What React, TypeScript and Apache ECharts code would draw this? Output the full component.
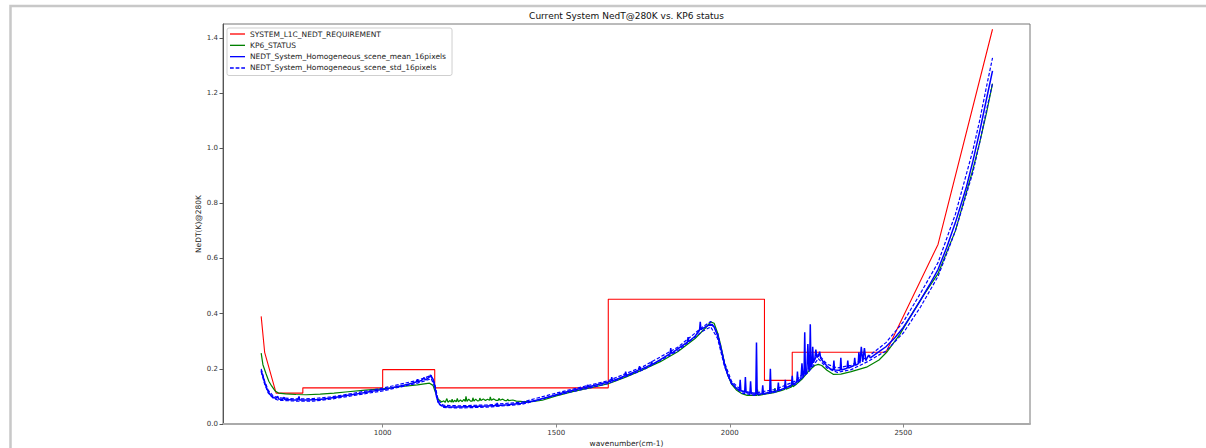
import React, { useEffect, useRef } from "react";
import * as echarts from "echarts";

type P = [number, number];

const TITLE = "Current System NedT@280K vs. KP6 status";
const X_NAME = "wavenumber(cm-1)";
const Y_NAME = "NeDT(K)@280K";
const NAME_REQ = "SYSTEM_L1C_NEDT_REQUIREMENT";
const NAME_KP6 = "KP6_STATUS";
const NAME_MEAN = "NEDT_System_Homogeneous_scene_mean_16pixels";
const NAME_STD = "NEDT_System_Homogeneous_scene_std_16pixels";

const X_TICKS = [1000, 1500, 2000, 2500];
const Y_TICKS = [0, 0.2, 0.4, 0.6, 0.8, 1.0, 1.2, 1.4];

const reqPoints: P[] = [
  [650, 0.39], [660, 0.26], [693, 0.112], [770, 0.112], [770, 0.131], [1000, 0.131],
  [1000, 0.197], [1150, 0.197], [1150, 0.131], [1650, 0.131], [1650, 0.452], [2100, 0.452],
  [2100, 0.158], [2180, 0.158], [2180, 0.26], [2450, 0.26], [2600, 0.651], [2757, 1.431],
];

const kp6Points: P[] = [
  [650, 0.257], [655, 0.215], [664, 0.182], [672, 0.155], [680, 0.138], [690, 0.12], [700, 0.112],
  [720, 0.109], [750, 0.107], [780, 0.106], [820, 0.108], [860, 0.112], [900, 0.117], [950, 0.123],
  [1000, 0.127], [1050, 0.135], [1100, 0.142], [1135, 0.148], [1145, 0.14], [1152, 0.115],
  [1160, 0.09], [1170, 0.08], [1176, 0.084], [1180, 0.078], [1185, 0.092], [1188, 0.079],
  [1194, 0.085], [1198, 0.079], [1200, 0.09], [1203, 0.079], [1208, 0.086], [1212, 0.08],
  [1215, 0.093], [1218, 0.08], [1224, 0.087], [1229, 0.081], [1234, 0.089], [1238, 0.082],
  [1240, 0.1], [1243, 0.082], [1248, 0.09], [1253, 0.083], [1258, 0.083], [1260, 0.095],
  [1263, 0.083], [1268, 0.09], [1273, 0.084], [1278, 0.085], [1280, 0.094], [1283, 0.085],
  [1290, 0.091], [1296, 0.085], [1302, 0.09], [1308, 0.086], [1310, 0.098], [1313, 0.086],
  [1320, 0.091], [1326, 0.086], [1333, 0.086], [1335, 0.093], [1338, 0.086], [1346, 0.09],
  [1352, 0.085], [1358, 0.085], [1360, 0.09], [1363, 0.085], [1375, 0.087], [1385, 0.083],
  [1400, 0.082], [1430, 0.081], [1460, 0.086], [1500, 0.102], [1550, 0.118], [1600, 0.132],
  [1650, 0.146], [1700, 0.17], [1750, 0.197], [1800, 0.226], [1850, 0.262], [1900, 0.31],
  [1930, 0.348], [1945, 0.37], [1955, 0.365], [1965, 0.33], [1975, 0.28], [1985, 0.22],
  [1995, 0.175], [2005, 0.145], [2020, 0.122], [2035, 0.11], [2050, 0.104], [2078, 0.104],
  [2080, 0.125], [2082, 0.104], [2110, 0.11], [2128, 0.114], [2130, 0.13], [2132, 0.115],
  [2150, 0.122], [2158, 0.125], [2160, 0.145], [2162, 0.126], [2178, 0.134], [2180, 0.152],
  [2182, 0.135], [2190, 0.142], [2210, 0.165], [2230, 0.196], [2245, 0.212], [2255, 0.216],
  [2265, 0.212], [2280, 0.195], [2298, 0.18], [2320, 0.181], [2350, 0.19], [2394, 0.206],
  [2430, 0.232], [2452, 0.26], [2490, 0.325], [2530, 0.41], [2560, 0.47], [2600, 0.545],
  [2650, 0.7], [2700, 0.92], [2720, 1.02], [2740, 1.13], [2757, 1.234],
];

const meanPoints: P[] = [
  [650, 0.195], [653, 0.18], [657, 0.165], [660, 0.15], [665, 0.133], [670, 0.118], [675, 0.108],
  [680, 0.101], [686, 0.096], [692, 0.093], [698, 0.1], [700, 0.091], [706, 0.09], [712, 0.089],
  [716, 0.097], [718, 0.089], [725, 0.088], [735, 0.088], [745, 0.087], [755, 0.087], [759, 0.1],
  [761, 0.087], [770, 0.087], [785, 0.087], [800, 0.088], [815, 0.089], [830, 0.091], [845, 0.093],
  [860, 0.096], [875, 0.099], [890, 0.102], [905, 0.105], [920, 0.108], [935, 0.111], [950, 0.114],
  [965, 0.118], [980, 0.121], [995, 0.124], [1010, 0.127], [1025, 0.131], [1040, 0.135],
  [1055, 0.139], [1070, 0.143], [1085, 0.148], [1098, 0.153], [1100, 0.162], [1102, 0.153],
  [1112, 0.158], [1120, 0.168], [1122, 0.16], [1130, 0.165], [1136, 0.172], [1138, 0.178],
  [1141, 0.168], [1145, 0.163], [1150, 0.14], [1155, 0.1], [1160, 0.08], [1165, 0.07],
  [1175, 0.064], [1190, 0.062], [1220, 0.062], [1260, 0.063], [1300, 0.065], [1328, 0.067],
  [1330, 0.076], [1332, 0.067], [1360, 0.07], [1400, 0.075], [1440, 0.085], [1480, 0.099],
  [1520, 0.113], [1560, 0.126], [1588, 0.133], [1590, 0.142], [1592, 0.134], [1620, 0.143],
  [1650, 0.152], [1658, 0.156], [1660, 0.17], [1662, 0.157], [1680, 0.165], [1698, 0.175],
  [1700, 0.19], [1702, 0.176], [1720, 0.186], [1738, 0.196], [1740, 0.21], [1742, 0.197],
  [1760, 0.207], [1773, 0.215], [1775, 0.227], [1777, 0.216], [1800, 0.233], [1828, 0.255],
  [1830, 0.275], [1832, 0.256], [1850, 0.272], [1878, 0.297], [1880, 0.315], [1882, 0.299],
  [1900, 0.318], [1913, 0.34], [1915, 0.37], [1917, 0.342], [1930, 0.352], [1945, 0.362],
  [1955, 0.352], [1965, 0.32], [1975, 0.27], [1985, 0.215], [1995, 0.175], [2005, 0.15],
  [2020, 0.128], [2028, 0.122], [2030, 0.16], [2032, 0.121], [2043, 0.115], [2045, 0.17],
  [2047, 0.114], [2058, 0.111], [2060, 0.155], [2062, 0.11], [2075, 0.108], [2077, 0.295],
  [2079, 0.108], [2093, 0.11], [2095, 0.14], [2097, 0.11], [2115, 0.115], [2117, 0.2],
  [2119, 0.115], [2138, 0.121], [2140, 0.15], [2142, 0.122], [2158, 0.13], [2160, 0.16],
  [2162, 0.131], [2178, 0.142], [2180, 0.175], [2182, 0.143], [2193, 0.152], [2195, 0.19],
  [2197, 0.154], [2205, 0.165], [2208, 0.22], [2211, 0.17], [2214, 0.178], [2216, 0.333],
  [2218, 0.182], [2222, 0.19], [2225, 0.29], [2228, 0.195], [2230, 0.2], [2232, 0.362],
  [2234, 0.205], [2237, 0.215], [2239, 0.28], [2241, 0.222], [2245, 0.235], [2248, 0.27],
  [2251, 0.242], [2255, 0.245], [2259, 0.262], [2262, 0.238], [2270, 0.225], [2280, 0.21],
  [2290, 0.2], [2298, 0.196], [2300, 0.23], [2302, 0.196], [2318, 0.195], [2320, 0.24],
  [2322, 0.196], [2338, 0.202], [2340, 0.23], [2342, 0.203], [2358, 0.212], [2360, 0.24],
  [2362, 0.213], [2370, 0.218], [2372, 0.26], [2375, 0.22], [2379, 0.28], [2383, 0.225],
  [2388, 0.275], [2392, 0.23], [2400, 0.25], [2405, 0.24], [2430, 0.262], [2450, 0.28],
  [2475, 0.312], [2500, 0.35], [2525, 0.398], [2550, 0.45], [2575, 0.503], [2600, 0.56],
  [2625, 0.64], [2650, 0.73], [2682, 0.86], [2700, 0.95], [2720, 1.06], [2740, 1.18],
  [2757, 1.28],
];

const stdUpperPoints: P[] = [
  [650, 0.2], [660, 0.155], [670, 0.123], [685, 0.101], [700, 0.095], [750, 0.091], [800, 0.092],
  [850, 0.098], [900, 0.108], [1000, 0.13], [1100, 0.158], [1140, 0.176], [1150, 0.145],
  [1160, 0.085], [1175, 0.068], [1220, 0.066], [1300, 0.069], [1400, 0.079], [1500, 0.112],
  [1600, 0.142], [1650, 0.157], [1750, 0.208], [1850, 0.278], [1920, 0.35], [1945, 0.372],
  [1965, 0.33], [1985, 0.222], [2005, 0.155], [2035, 0.12], [2070, 0.112], [2130, 0.125],
  [2190, 0.156], [2230, 0.207], [2255, 0.253], [2280, 0.217], [2310, 0.203], [2350, 0.213],
  [2400, 0.245], [2450, 0.295], [2500, 0.37], [2550, 0.475], [2600, 0.585], [2650, 0.76],
  [2700, 0.99], [2720, 1.1], [2740, 1.225], [2757, 1.327],
];

const stdLowerPoints: P[] = [
  [650, 0.19], [660, 0.145], [670, 0.113], [685, 0.093], [700, 0.086], [750, 0.083], [800, 0.083],
  [850, 0.09], [900, 0.1], [1000, 0.12], [1100, 0.148], [1140, 0.164], [1150, 0.135],
  [1160, 0.075], [1175, 0.06], [1220, 0.058], [1300, 0.061], [1400, 0.071], [1500, 0.104],
  [1600, 0.132], [1650, 0.147], [1750, 0.196], [1850, 0.265], [1920, 0.335], [1945, 0.352],
  [1965, 0.31], [1985, 0.208], [2005, 0.145], [2035, 0.112], [2070, 0.104], [2130, 0.115],
  [2190, 0.144], [2230, 0.193], [2255, 0.237], [2280, 0.203], [2310, 0.187], [2350, 0.197],
  [2400, 0.228], [2450, 0.265], [2500, 0.33], [2550, 0.425], [2600, 0.535], [2650, 0.7],
  [2700, 0.91], [2720, 1.02], [2740, 1.14], [2757, 1.235],
];

const FONT = "DejaVu Sans";
const ICON_SOLID = "path://M0,0H15V1.3H0Z";
const ICON_DASH = "path://M0,0H3.6V1.3H0Z M5.4,0H9V1.3H5.4Z M10.8,0H14.4V1.3H10.8Z";

export default function App() {
  const ref = useRef<HTMLDivElement>(null);
  useEffect(() => {
    if (!ref.current) return;
    const chart = echarts.init(ref.current, undefined, { renderer: "svg" });
    const lineSeries = (name: string, data: P[], color: string, dashed = false, width = 1.1) => ({
      name,
      type: "line",
      data,
      symbol: "none",
      showSymbol: false,
      silent: true,
      lineStyle: { color, width, type: dashed ? [3.5, 1.8] : "solid" },
      itemStyle: { color },
    });
    chart.setOption({
      animation: false,
      graphic: [
        {
          type: "rect",
          z: -10,
          silent: true,
          shape: { x: 10.5, y: 6, width: 1400, height: 600 },
          style: { fill: "none", stroke: "#c8c8c8", lineWidth: 2.5 },
        },
        {
          type: "text",
          x: 626.5,
          y: 16,
          style: {
            text: TITLE,
            fontFamily: FONT,
            fontSize: 9,
            fill: "#111",
            textAlign: "center",
            textVerticalAlign: "middle",
          },
        },
      ],
      grid: {
        left: 223,
        right: 176,
        top: 24,
        bottom: 24,
        outerBoundsMode: "none",
        containLabel: false,
        show: true,
        borderColor: "#777",
        borderWidth: 1,
        backgroundColor: "transparent",
      },
      legend: {
        orient: "vertical",
        left: 227,
        top: 28,
        data: [
          { name: NAME_REQ, icon: ICON_SOLID, itemStyle: { color: "#ff0000" } },
          { name: NAME_KP6, icon: ICON_SOLID, itemStyle: { color: "#008000" } },
          { name: NAME_MEAN, icon: ICON_SOLID, itemStyle: { color: "#0000ff" } },
          { name: NAME_STD, icon: ICON_DASH, itemStyle: { color: "#0000ff" } },
        ],
        itemWidth: 15,
        itemHeight: 9,
        itemGap: 2.33,
        padding: [1.5, 6, 3, 3],
        backgroundColor: "#fff",
        borderColor: "#cfcfcf",
        borderWidth: 1,
        borderRadius: 2,
        selectedMode: false,
        textStyle: { fontFamily: FONT, fontSize: 7.5, color: "#222", lineHeight: 9 },
      },
      xAxis: {
        type: "value",
        min: 540,
        max: 2865,
        name: X_NAME,
        nameLocation: "middle",
        nameGap: 15,
        nameMoveOverlap: false,
        nameTextStyle: { fontFamily: FONT, fontSize: 7.5, color: "#222" },
        axisLine: { show: true, onZero: false, lineStyle: { color: "#aaa", width: 2 } },
        axisTick: {
          show: true,
          customValues: X_TICKS,
          length: 3.5,
          lineStyle: { color: "#888", width: 1 },
        },
        axisLabel: {
          customValues: X_TICKS,
          formatter: (v: number) => String(v),
          fontFamily: FONT,
          fontSize: 7,
          color: "#333",
          margin: 5,
        },
        splitLine: { show: false },
      },
      yAxis: {
        type: "value",
        min: 0,
        max: 1.45,
        name: Y_NAME,
        nameLocation: "middle",
        nameGap: 21,
        nameMoveOverlap: false,
        nameTextStyle: { fontFamily: FONT, fontSize: 7.5, color: "#222" },
        axisLine: { show: true, lineStyle: { color: "#555", width: 1 } },
        axisTick: {
          show: true,
          customValues: Y_TICKS,
          length: 3.5,
          lineStyle: { color: "#555", width: 1 },
        },
        axisLabel: {
          customValues: Y_TICKS,
          formatter: (v: number) => v.toFixed(1),
          fontFamily: FONT,
          fontSize: 7,
          color: "#333",
          margin: 5,
        },
        splitLine: { show: false },
      },
      series: [
        lineSeries(NAME_REQ, reqPoints, "#ff0000", false, 1.1),
        lineSeries(NAME_KP6, kp6Points, "#008000", false, 1.2),
        lineSeries(NAME_MEAN, meanPoints, "#0000ff", false, 1.5),
        lineSeries(NAME_STD, stdUpperPoints, "#0000ff", true, 1.2),
        lineSeries(NAME_STD, stdLowerPoints, "#0000ff", true, 1.2),
      ],
    });
    return () => chart.dispose();
  }, []);
  return (
    <div
      ref={ref}
      style={{ position: "fixed", left: 0, top: 0, width: 1206, height: 448, background: "#fff" }}
    />
  );
}
